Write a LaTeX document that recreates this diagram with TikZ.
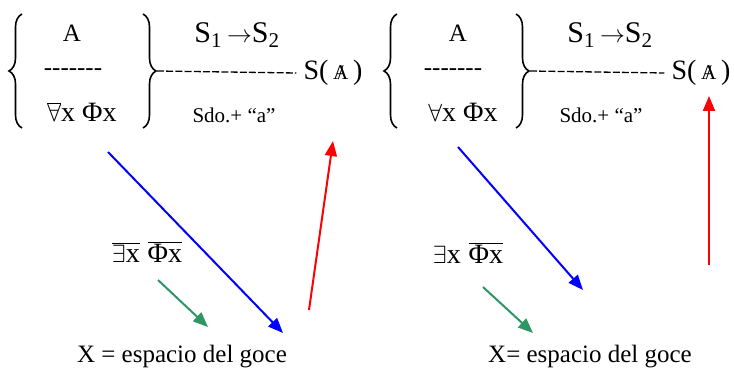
\documentclass[tikz,border=0pt]{standalone}
\usepackage{fontspec}
\setmainfont{Liberation Serif}
\usetikzlibrary{arrows.meta,decorations.pathreplacing}
\definecolor{gocegreen}{RGB}{46,150,100}
\newcommand{\barredA}{\ooalign{A\cr\hidewidth/\hidewidth\cr}}
\newcommand{\hyphens}{-{}-{}-{}-{}-{}-{}-}

\begin{document}
\begin{tikzpicture}[x=1pt, y=-1pt,
    txt/.style={inner sep=0pt, font=\fontsize{25}{28}\selectfont},
    big/.style={inner sep=0pt, font=\fontsize{28}{32}\selectfont},
    small/.style={inner sep=0pt, font=\fontsize{21}{24}\selectfont},
    curly/.style={decorate, decoration={brace, amplitude=13pt, aspect=0.5}, line width=1.6pt},
    link/.style={dash pattern=on 7pt off 2.2pt, line width=1.3pt},
    arr/.style={-{Triangle[length=15pt,width=12pt]}, line width=2pt}
  ]
  \useasboundingbox (0,0) rectangle (734,371);

  % left scheme
  \node[txt] (lA) at (72,33) {A};
  \node[txt] (lsep) at (73,72) {\hyphens};
  \node[big] (lall) at (82,112) {$\overline{\forall}$x Φx};
  \draw[curly] (22,128) -- (22,14);
  \draw[curly] (143,14) -- (143,128);
  \coordinate (ltip) at (157,71);
  \node[big] (lS) at (333,73) {S(\,{\fontsize{21}{22}\selectfont\barredA}\,)};
  \node[big, font=\fontsize{30}{32}\selectfont] (lpair) at (237,35) {S\textsubscript{1}\,$\rightarrow$S\textsubscript{2}};
  \node[small] (lsdo) at (234,115) {Sdo.+ “a”};
  \draw[link] (ltip) -- ([xshift=-7pt]lS.west);

  \node[big] (lex) at (147,252) {$\overline{\mbox{$\exists$x}}$\;$\overline{\mbox{Φx}}$};
  \node[txt] (lgoce) at (182,357) {X = espacio del goce};
  \coordinate (lb1) at (108,152);
  \coordinate (lb2) at (283,333);
  \coordinate (lr1) at (309,310);
  \coordinate (lr2) at (333,141);
  \coordinate (lg1) at (158,280);
  \coordinate (lg2) at (208,327);
  \draw[arr, blue] (lb1) -- (lb2);
  \draw[arr, red] (lr1) -- (lr2);
  \draw[arr, gocegreen] (lg1) -- (lg2);

  % right scheme
  \node[txt] (rA) at (458,33) {A};
  \node[txt] (rsep) at (453,72) {\hyphens};
  \node[big] (rall) at (463,112) {$\forall$x Φx};
  \draw[curly] (397,128) -- (397,14);
  \draw[curly] (516,14) -- (516,128);
  \coordinate (rtip) at (530,71);
  \node[big] (rS) at (701,73) {S(\,{\fontsize{21}{22}\selectfont\barredA}\,)};
  \node[big, font=\fontsize{30}{32}\selectfont] (rpair) at (610,35) {S\textsubscript{1}\,$\rightarrow$S\textsubscript{2}};
  \node[small] (rsdo) at (601,115) {Sdo.+ “a”};
  \draw[link] (rtip) -- ([xshift=-7pt]rS.west);

  \node[big] (rex) at (468,253) {$\exists$x\;$\overline{\mbox{Φx}}$};
  \node[txt] (rgoce) at (590,357) {X= espacio del goce};
  \coordinate (rb1) at (458,147);
  \coordinate (rb2) at (583,290);
  \coordinate (rr1) at (709,265);
  \coordinate (rr2) at (709,96);
  \coordinate (rg1) at (483,287);
  \coordinate (rg2) at (533,333);
  \draw[arr, blue] (rb1) -- (rb2);
  \draw[arr, red] (rr1) -- (rr2);
  \draw[arr, gocegreen] (rg1) -- (rg2);
\end{tikzpicture}
\end{document}
